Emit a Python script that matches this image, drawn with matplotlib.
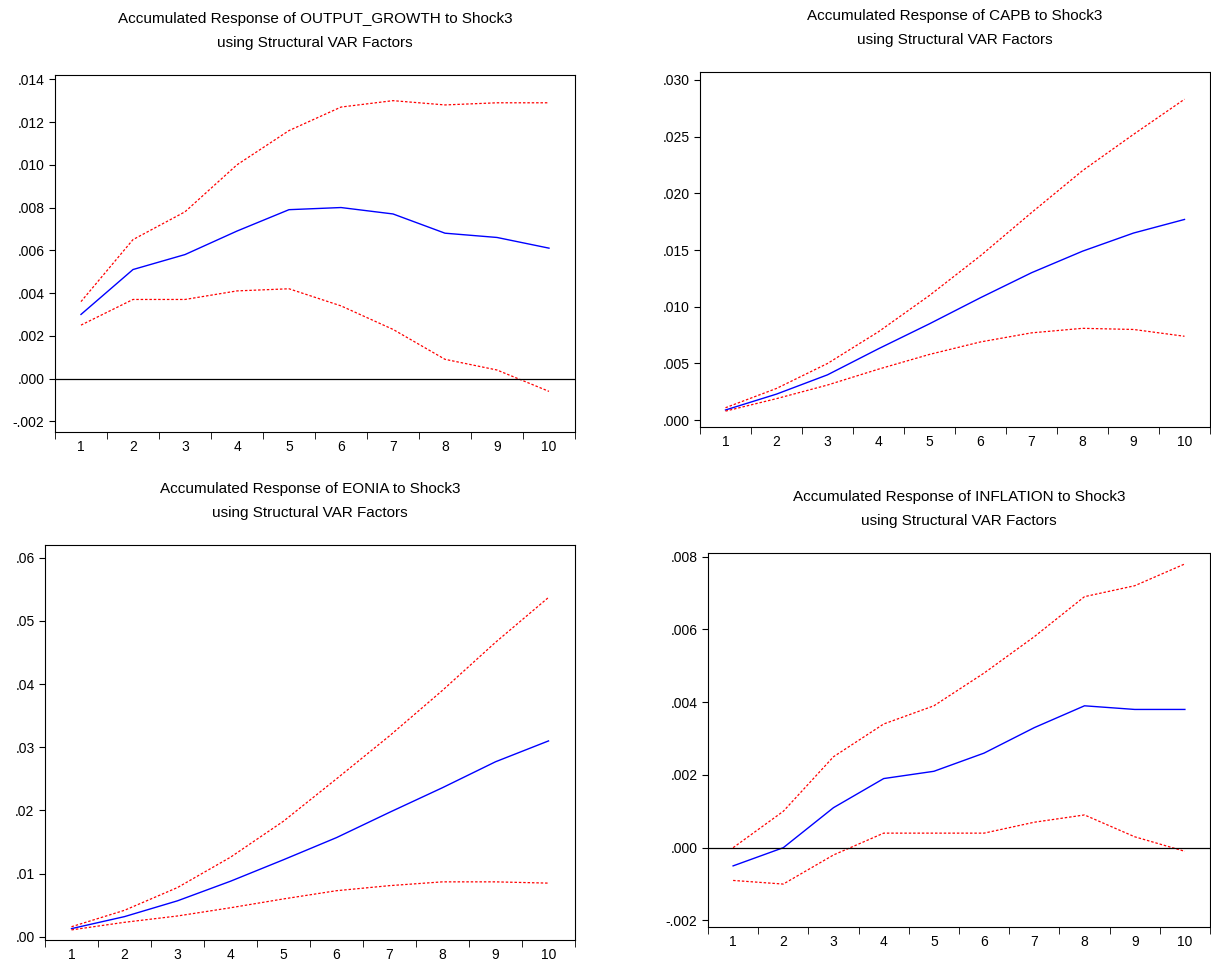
import matplotlib
matplotlib.use("Agg")
import matplotlib.pyplot as plt
from matplotlib.ticker import FuncFormatter, FixedLocator

plt.rcParams['font.family'] = ['Liberation Sans', 'DejaVu Sans']

steps = list(range(1, 11))

out_resp = [.0030, .0051, .0058, .0069, .0079, .0080, .0077, .0068, .0066, .0061]
out_up = [.0036, .0065, .0078, .0100, .0116, .0127, .0130, .0128, .0129, .0129]
out_lo = [.0025, .0037, .0037, .0041, .0042, .0034, .0023, .0009, .0004, -.0006]

capb_resp = [.0009, .0023, .0040, .0063, .0085, .0108, .0130, .0149, .0165, .0177]
capb_up = [.0011, .0028, .0050, .0078, .0110, .0145, .0183, .0220, .0252, .0283]
capb_lo = [.0008, .0019, .0031, .0045, .0058, .0069, .0077, .0081, .0080, .0074]

eon_resp = [.0013, .0032, .0057, .0088, .0122, .0157, .0197, .0236, .0277, .0310]
eon_up = [.0016, .0042, .0078, .0126, .0183, .0250, .0318, .0390, .0466, .0537]
eon_lo = [.0011, .0023, .0033, .0046, .0060, .0073, .0081, .0087, .0087, .0085]

inf_resp = [-.0005, .0000, .0011, .0019, .0021, .0026, .0033, .0039, .0038, .0038]
inf_up = [.0000, .0010, .0025, .0034, .0039, .0048, .0058, .0069, .0072, .0078]
inf_lo = [-.0009, -.0010, -.0002, .0004, .0004, .0004, .0007, .0009, .0003, -.0001]

W, H = 1211, 960
fig = plt.figure(figsize=(W/100, H/100), dpi=100)

def fmt(decimals):
    def f(v, pos):
        s = f"{v:.{decimals}f}"
        return s.replace("0.", ".", 1)
    return FuncFormatter(f)

panels = [
    ("OUTPUT_GROWTH", out_resp, out_up, out_lo, (55, 75, 575, 432), (-0.0025, 0.0142), [-.002, 0, .002, .004, .006, .008, .010, .012, .014], 3, True),
    ("CAPB", capb_resp, capb_up, capb_lo, (700, 72, 1210, 427), (-0.0006, 0.0307), [0, .005, .010, .015, .020, .025, .030], 3, False),
    ("EONIA", eon_resp, eon_up, eon_lo, (45, 545, 575, 940), (-0.0005, 0.062), [0, .01, .02, .03, .04, .05, .06], 2, False),
    ("INFLATION", inf_resp, inf_up, inf_lo, (708, 553, 1210, 927), (-0.00218, 0.0081), [-.002, 0, .002, .004, .006, .008], 3, True),
]

for name, r, u, l, (x0, y0, x1, y1), ylim, yt, dec, zero in panels:
    ax = fig.add_axes([x0/W, 1 - y1/H, (x1-x0)/W, (y1-y0)/H])
    ax.plot(steps, r, color='blue', lw=1.0)
    ax.plot(steps, u, color='red', lw=0.9, ls=(0, (2, 1.5)))
    ax.plot(steps, l, color='red', lw=0.9, ls=(0, (2, 1.5)))
    if zero:
        ax.axhline(0, color='black', lw=0.9)
    ax.set_xlim(0.5, 10.5)
    ax.set_ylim(*ylim)
    ax.set_xticks(steps)
    ax.xaxis.set_minor_locator(FixedLocator([s + 0.5 for s in range(0, 11)]))
    ax.tick_params(axis='x', which='major', length=0, labelsize=10, pad=6)
    ax.tick_params(axis='x', which='minor', length=5, direction='out')
    ax.set_yticks(yt)
    ax.yaxis.set_major_formatter(fmt(dec))
    ax.tick_params(axis='y', labelsize=10, length=4, direction='out')
    ax.set_title(f"Accumulated Response of {name} to Shock3\nusing Structural VAR Factors",
                 fontsize=11, pad=20, linespacing=1.9)

fig.savefig("out.png", dpi=100, facecolor='white')
